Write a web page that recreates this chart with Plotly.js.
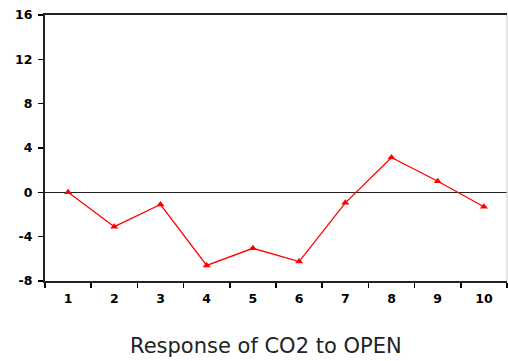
<!DOCTYPE html>
<html>
<head>
<meta charset="utf-8">
<script src="https://cdn.plot.ly/plotly-3.0.1.min.js"></script>
<style>html,body{margin:0;padding:0;background:#fff;}#chart{width:508px;height:361px;}</style>
</head>
<body>
<div id="chart"></div>
<script>
const periods = ["1","2","3","4","5","6","7","8","9","10"];
const response = [0.0, -3.1, -1.1, -6.6, -5.05, -6.25, -0.95, 3.15, 1.0, -1.3];
const yTicks = [-8, -4, 0, 4, 8, 12, 16];
const chartTitle = "Response of CO2 to OPEN";

const trace = {
  x: periods, y: response, type: "scatter", mode: "lines+markers",
  line: {color: "#ff0000", width: 1.3},
  marker: {symbol: "triangle-up", size: 7, color: "#ff0000"},
  hoverinfo: "skip"
};
const tickFont = {family: "DejaVu Sans", size: 12.5, color: "#000", weight: 700};
const layout = {
  width: 508, height: 361,
  margin: {l: 45, r: 1, t: 15, b: 80},
  paper_bgcolor: "#fff", plot_bgcolor: "#fff",
  showlegend: false,
  xaxis: {
    type: "category", range: [-0.5, 9.5],
    showgrid: false, zeroline: false,
    showline: true, linecolor: "#222", linewidth: 2, mirror: true,
    ticks: "outside", tickson: "boundaries", ticklen: 5, tickwidth: 1.5, tickcolor: "#000",
    ticklabelstandoff: 5,
    tickfont: tickFont
  },
  yaxis: {
    range: [-8, 16], tickvals: yTicks, ticktext: yTicks.map(String),
    showgrid: false, zeroline: true, zerolinecolor: "#222", zerolinewidth: 1.5,
    showline: true, linecolor: "#222", linewidth: 2,
    ticks: "outside", ticklen: 5, tickwidth: 1.5, tickcolor: "#000",
    ticklabelstandoff: 3,
    tickfont: tickFont
  },
  shapes: [{type: "line", xref: "paper", yref: "paper", x0: 1, x1: 1, y0: 0, y1: 1,
            line: {color: "#c8c8c8", width: 1}}],
  annotations: [{
    text: chartTitle, xref: "paper", yref: "paper", x: 0.478, y: -0.19,
    xanchor: "center", yanchor: "top", showarrow: false,
    font: {family: "DejaVu Sans", size: 21, color: "#222"}
  }]
};
Plotly.newPlot("chart", [trace], layout, {displayModeBar: false, staticPlot: true});
</script>
</body>
</html>
